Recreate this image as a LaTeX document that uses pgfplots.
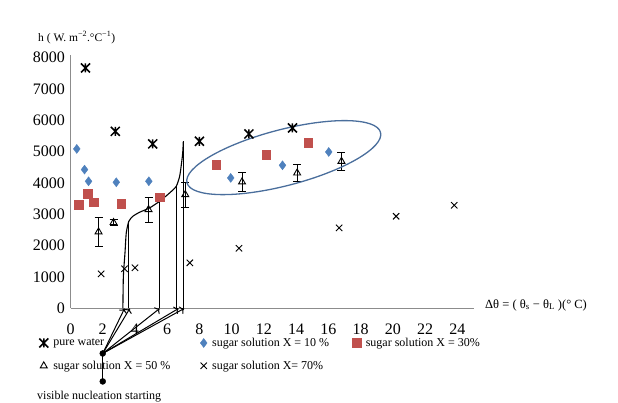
\documentclass[border=0pt]{standalone}
\usepackage{fontspec}
\setmainfont{Liberation Serif}
\usepackage{pgfplots}
\pgfplotsset{compat=1.18}
\usetikzlibrary{arrows.meta}
\definecolor{xlblue}{HTML}{4F81BD}
\definecolor{xlred}{HTML}{C0504D}
\definecolor{ellblue}{HTML}{4A6E9C}
\definecolor{axgray}{HTML}{8C8C8C}
\pgfdeclareplotmark{xstar}{%
 \pgfpathmoveto{\pgfqpoint{-\pgfplotmarksize}{-\pgfplotmarksize}}%
 \pgfpathlineto{\pgfqpoint{\pgfplotmarksize}{\pgfplotmarksize}}%
 \pgfpathmoveto{\pgfqpoint{-\pgfplotmarksize}{\pgfplotmarksize}}%
 \pgfpathlineto{\pgfqpoint{\pgfplotmarksize}{-\pgfplotmarksize}}%
 \pgfpathmoveto{\pgfqpoint{0pt}{-\pgfplotmarksize}}%
 \pgfpathlineto{\pgfqpoint{0pt}{\pgfplotmarksize}}%
 \pgfusepathqstroke}
\pgfplotstableread{
x y e
1.74 2443 470
2.67 2740 90
4.84 3153 400
7.12 3630 400
10.64 4034 310
14.06 4320 270
16.81 4691 280
}\tabfifty
\begin{document}
\begin{tikzpicture}[x=1pt,y=1pt]
\path (0,0) rectangle (618,402);
\begin{axis}[
 at={(70.5pt,93.5pt)}, anchor=south west,
 scale only axis, width=403pt, height=253.5pt,
 xmin=0, xmax=25, ymin=0, ymax=8080,
 axis x line*=bottom, axis y line*=left,
 axis line style={axgray, line width=1.3pt},
 xtick={0,2,...,24}, ytick={0,1000,...,8000},
 major tick length=0pt,
 tick label style={font=\fontsize{16}{16}\selectfont},
 /pgf/number format/assume math mode=true,
 scaled y ticks=false,
 yticklabel style={/pgf/number format/1000 sep={}, xshift=-2pt},
 xticklabel style={inner sep=1pt, yshift=-14pt},
 clip=false,
 legend columns=3,
 legend cell align=left,
 legend image code/.code={\draw[#1] plot coordinates {(0pt,0pt)};},
 legend style={draw=none, fill=none, inner sep=0pt,
   font=\fontsize{12}{13}\selectfont,
   at={(-0.078,-0.108)}, anchor=north west,
   /tikz/every odd column/.append style={column sep=3pt},
   /tikz/column 2/.style={column sep=28pt},
   /tikz/column 4/.style={column sep=21pt},
   row sep=9pt},
]
\addplot[only marks, mark=xstar, mark size=4.5pt, line width=1.5pt, black]
 coordinates {(0.93,7666)(2.78,5647)(5.10,5245)(8.0,5330)(11.07,5563)(13.77,5754)};
\addlegendentry{pure water}
\addplot[only marks, mark=diamond*, mark size=4.5pt, xlblue, mark options={fill=xlblue}]
 coordinates {(0.39,5086)(0.87,4427)(1.12,4055)(2.84,4023)(4.86,4055)(9.94,4162)(13.15,4564)(16.02,4990)};
\addlegendentry{sugar solution X = 10 \%}
\addplot[only marks, mark=square*, mark size=4.3pt, xlred, mark options={fill=xlred}]
 coordinates {(0.52,3312)(1.08,3662)(1.45,3385)(3.15,3334)(5.53,3545)(9.05,4586)(12.15,4904)(14.74,5277)};
\addlegendentry{sugar solution X = 30\%}
\addplot[only marks, mark=triangle, mark size=4pt, black, line width=0.9pt,
  error bars/.cd, y dir=both, y explicit, error bar style={line width=0.9pt, black},
  error mark options={rotate=90, mark size=4pt, line width=0.9pt, black}]
 table[x=x, y=y, y error=e] {\tabfifty};
\addlegendentry{sugar solution X = 50 \%}
\addplot[only marks, mark=x, mark size=4.5pt, black, line width=0.9pt]
 coordinates {(1.9,1105)(3.35,1264)(4.0,1296)(7.4,1455)(10.45,1920)(16.67,2570)(20.2,2940)(23.8,3290)};
\addlegendentry{sugar solution X= 70\%}
% nucleation curve
\addplot[black, line width=1.1pt, smooth, tension=0.4, no marks, forget plot]
 coordinates {(3.25,0)(3.28,1029)(3.38,1773)(3.46,2410)(3.62,2780)(3.87,2940)(4.29,3068)(4.91,3207)(5.53,3418)(6.15,3684)(6.56,3895)(6.77,4213)(6.89,4640)(6.96,4958)(7.0,5328)};
\addplot[black, line width=1pt, no marks, forget plot] coordinates {(3.62,0)(3.62,2780)};
\addplot[black, line width=1pt, no marks, forget plot] coordinates {(5.53,0)(5.53,3418)};
\addplot[black, line width=1pt, no marks, forget plot] coordinates {(6.56,0)(6.56,3895)};
\addplot[black, line width=1pt, no marks, forget plot] coordinates {(7.02,0)(7.02,5328)};
% arrows from hub
\addplot[black, line width=1pt, no marks, forget plot, -{To[length=4pt]}] coordinates {(2.0,-1433)(3.35,0)};
\addplot[black, line width=1pt, no marks, forget plot, -{To[length=4pt]}] coordinates {(2.0,-1433)(3.68,0)};
\addplot[black, line width=1pt, no marks, forget plot, -{To[length=4pt]}] coordinates {(2.0,-1433)(5.53,0)};
\addplot[black, line width=1pt, no marks, forget plot, -{To[length=4pt]}] coordinates {(2.0,-1433)(6.7,0)};
\addplot[black, line width=1pt, no marks, forget plot, -{To[length=4pt]}] coordinates {(2.0,-1433)(7.05,0)};
\addplot[black, line width=1pt, no marks, forget plot] coordinates {(2.0,-1433)(2.0,-2325)};
\addplot[only marks, mark=*, mark size=3pt, black, forget plot] coordinates {(2.0,-1433)(2.0,-2325)};
% ellipse
\draw[ellblue, line width=1.3pt, rotate around={14.6:(axis cs:13.23,4809)}]
 (axis cs:13.23,4809) ellipse [x radius=100pt, y radius=28pt];
\end{axis}
\node[anchor=west, inner sep=0pt, font=\fontsize{11.5}{12}\selectfont] at (38,364.5) {h ( W. m\textsuperscript{−2}.°C\textsuperscript{−1})};
\node[anchor=west, inner sep=0pt, font=\fontsize{12.5}{15}\selectfont] at (485,97) {Δθ = ( θ\textsubscript{s} − θ\textsubscript{L} )(° C)};
\node[anchor=west, inner sep=0pt, font=\fontsize{12}{13}\selectfont] at (37,5) {visible nucleation starting};
\end{tikzpicture}
\end{document}
